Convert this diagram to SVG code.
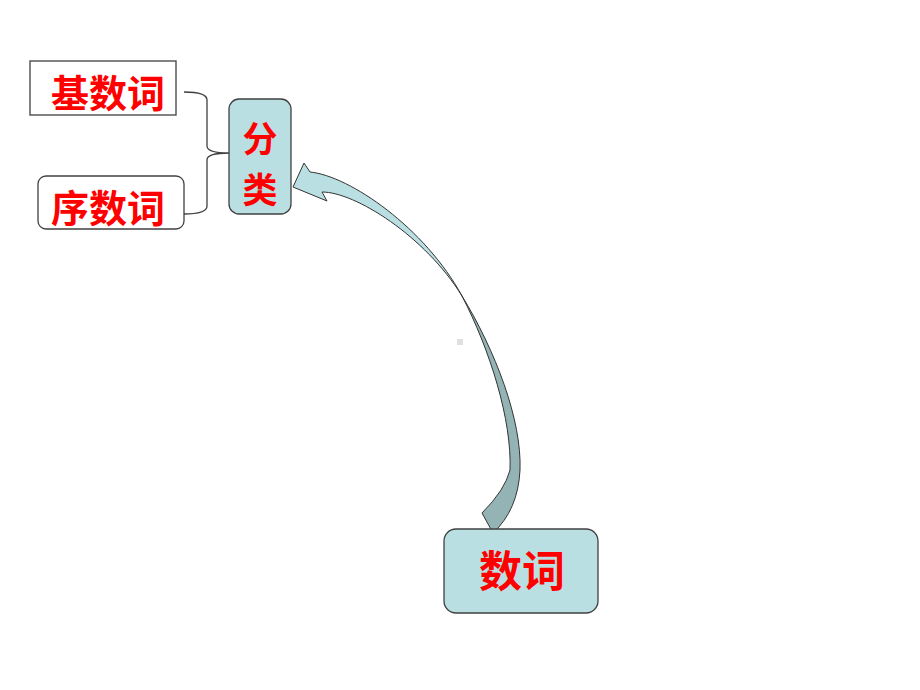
<svg xmlns="http://www.w3.org/2000/svg" width="920" height="690" viewBox="0 0 920 690">
<style>
.box{fill:#ffffff;stroke:#404040;stroke-width:1.3}
.teal{fill:#badfe2;stroke:#404040;stroke-width:1.3}
.lbl{font-family:"Noto Sans CJK SC","Noto Sans CJK JP",sans-serif;font-weight:bold;fill:#ff0000;text-anchor:middle;dominant-baseline:central}
</style>
<rect width="920" height="690" fill="#ffffff"/>
<g id="connectors">
<path d="M184,92 Q207,92 207,100 L207,146 Q207,153 229,153 Q207,153 207,160 L207,206 Q207,214 184,214" fill="none" stroke="#404040" stroke-width="1.3"/>
<path d="M462,296 C495,350 522,420 520,470 Q518,510 493,533 L482,513 Q505,490 510,470 C512,420 490,350 462,296 Z" fill="#94b3b4" stroke="#333333" stroke-width="1"/>
<path d="M293,187 L304,163 L310,172 C350,176 425,228 462,296 C425,236 355,192 322,192 L327,201 Z" fill="#badfe2" stroke="#333333" stroke-width="1"/>
</g>
<rect x="457" y="339" width="6" height="6" fill="#e0e0e0"/>
<g id="n_jishuci">
<rect class="box" x="30" y="61" width="146" height="54"/>
<text class="lbl" x="108" y="90" font-size="38">基数词</text>
</g>
<g id="n_xushuci">
<rect class="box" x="38" y="176" width="146" height="53" rx="8"/>
<text class="lbl" x="108" y="205" font-size="38">序数词</text>
</g>
<g id="n_fenlei">
<rect class="teal" x="229" y="99" width="62" height="115" rx="10"/>
<text class="lbl" x="260" y="136" font-size="35">分</text>
<text class="lbl" x="260" y="187" font-size="35">类</text>
</g>
<g id="n_shuci">
<rect class="teal" x="444" y="529" width="154" height="84" rx="12"/>
<text class="lbl" x="522" y="568" font-size="43">数词</text>
</g>
</svg>
